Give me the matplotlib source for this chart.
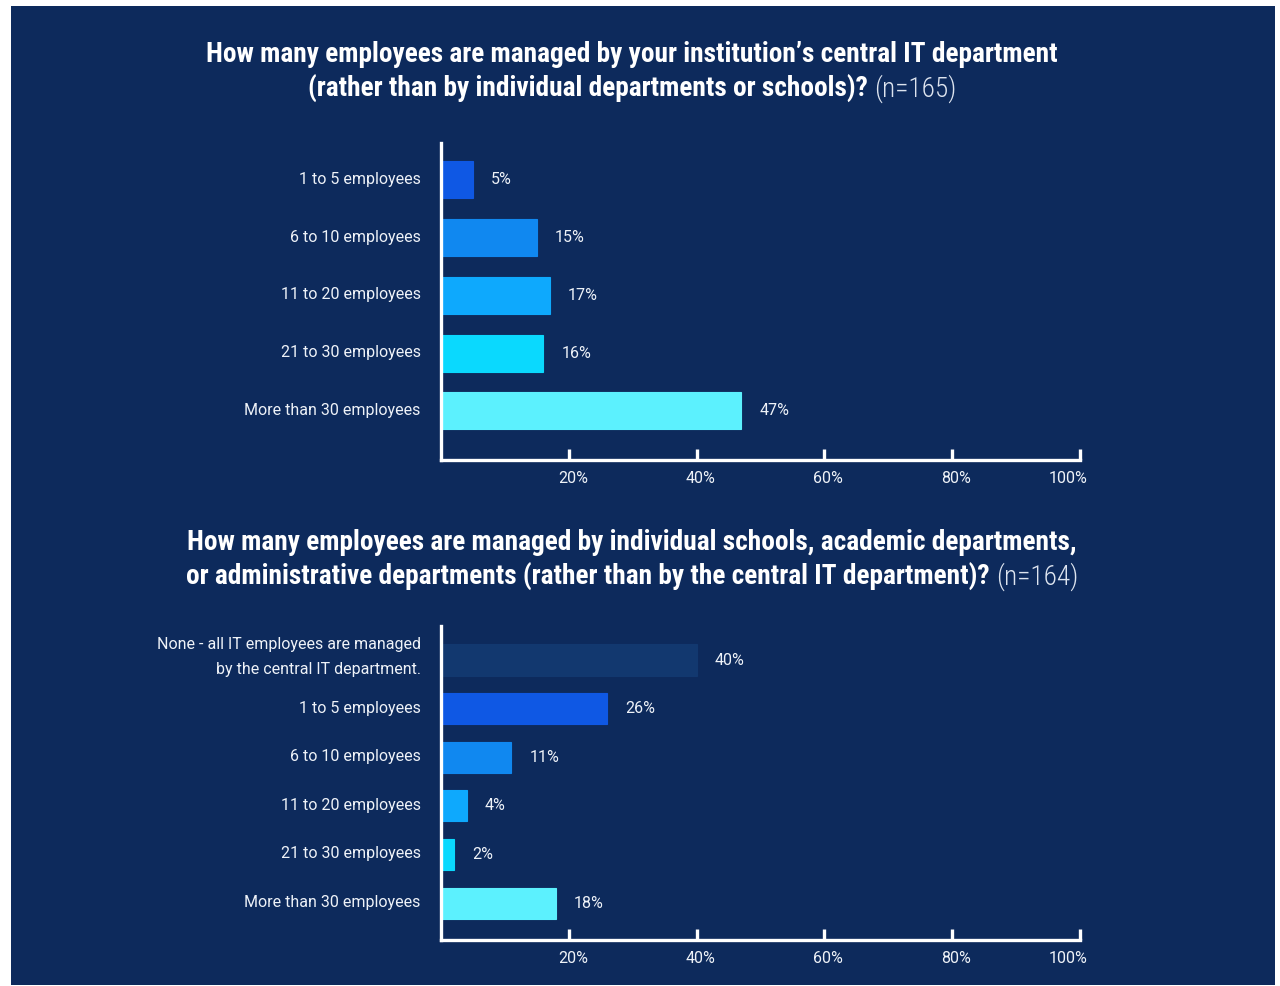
import matplotlib
matplotlib.use("Agg")
from matplotlib import pyplot as plt
from matplotlib import font_manager
from matplotlib.patches import Rectangle
from matplotlib.transforms import ScaledTranslation

# survey answers, percent of respondents
central_labels = ["1 to 5 employees", "6 to 10 employees", "11 to 20 employees",
                  "21 to 30 employees", "More than 30 employees"]
central_values = [5, 15, 17, 16, 47]

school_labels = ["None - all IT employees are managed\nby the central IT department.",
                 "1 to 5 employees", "6 to 10 employees", "11 to 20 employees",
                 "21 to 30 employees", "More than 30 employees"]
school_values = [40, 26, 11, 4, 2, 18]

x_ticks = [20, 40, 60, 80, 100]
x_tick_labels = ["20%", "40%", "60%", "80%", "100%"]

central_title = ("How many employees are managed by your institution\u2019s central IT department",
                 "(rather than by individual departments or schools)?", "(n=165)")
school_title = ("How many employees are managed by individual schools, academic departments,",
                "or administrative departments (rather than by the central IT department)?", "(n=164)")

BG = "#0d2a5c"
central_colors = ["#0f58e4", "#1088f0", "#0ea9fd", "#0ad9fe", "#5cf1fe"]
school_colors = ["#12386f"] + central_colors
TXT = "#eef2f8"
BODY_FONT = ["Roboto", "DejaVu Sans"]

# pick a narrow face for the headings if one is around
installed = {f.name for f in font_manager.fontManager.ttflist}
narrow = [n for n in ["Roboto Condensed", "Liberation Sans Narrow", "DejaVu Sans"] if n in installed]
TITLE_FONT = narrow + ["DejaVu Sans"]
TITLE_STRETCH = "normal" if narrow[0] != "DejaVu Sans" else "condensed"
TITLE_SIZE = 19.7 if narrow[0] != "DejaVu Sans" else 15

W, H = 1280, 986
fig = plt.figure(figsize=(W / 100, H / 100), dpi=100)
fig.patch.set_facecolor("white")
fig.patches.append(Rectangle((11 / W, 1 - 985 / H), (1275 - 11) / W, (985 - 6) / H,
                             transform=fig.transFigure, facecolor=BG, edgecolor="none", zorder=-5))


def px_box(left, top, right, bottom):
    return [left / W, 1 - bottom / H, (right - left) / W, (bottom - top) / H]


def nudge(artist, dx, dy):
    # shift a text artist by a few pixels
    artist.set_transform(artist.get_transform() +
                         ScaledTranslation(dx / 100, dy / 100, fig.dpi_scale_trans))


def draw_bars(ax, labels, values, colors, ylim):
    pos = list(range(len(values)))
    ax.barh(pos, values, height=0.64, color=colors, edgecolor=colors, linewidth=0.8)
    ax.set_xlim(0, 100)
    ax.set_ylim(*ylim)
    ax.set_facecolor("none")
    for s in ["top", "right"]:
        ax.spines[s].set_visible(False)
    for s in ["left", "bottom"]:
        ax.spines[s].set_color("white")
        ax.spines[s].set_linewidth(2.4)
    ax.set_xticks(x_ticks)
    ax.set_xticklabels(x_tick_labels, family=BODY_FONT, fontsize=11.5, color=TXT)
    ax.tick_params(axis="x", direction="in", length=8, width=2.4, color="white", pad=8)
    for lbl in ax.get_xticklabels()[:-1]:
        nudge(lbl, 4, 0)
    nudge(ax.get_xticklabels()[-1], -12, 0)
    ax.set_yticks(pos)
    ax.set_yticklabels(labels, family=BODY_FONT, fontsize=11.5, color=TXT,
                       linespacing=1.9)
    ax.tick_params(axis="y", length=0, pad=14.5)
    for lbl in ax.get_yticklabels():
        nudge(lbl, 0, 10 if "\n" in lbl.get_text() else 2)
    for p, v in zip(pos, values):
        ax.annotate(f"{v}%", (v, p), xytext=(13, 0), textcoords="offset points",
                    ha="left", va="center", family=BODY_FONT, fontsize=11.5, color=TXT)


def draw_title(lines, y1, y2, renderer):
    style = dict(family=TITLE_FONT, fontstretch=TITLE_STRETCH, fontsize=TITLE_SIZE)
    fig.text(632 / W, 1 - y1 / H, lines[0], ha="center", va="center",
             fontweight="bold", color="white", **style)
    main = fig.text(0, 1 - y2 / H, lines[1] + " ", ha="left", va="center",
                    fontweight="bold", color="white", **style)
    tail = fig.text(0, 1 - y2 / H, lines[2], ha="left", va="center",
                    fontweight="light", color="#dde4ef", **style)
    w1 = main.get_window_extent(renderer).width
    w2 = tail.get_window_extent(renderer).width
    start = 632 - (w1 + w2) / 2
    main.set_x(start / W)
    tail.set_x((start + w1) / W)


ax1 = fig.add_axes(px_box(441, 143, 1080, 460))
draw_bars(ax1, central_labels, central_values, central_colors, (4.85, -0.64))

ax2 = fig.add_axes(px_box(441, 626, 1080, 940))
draw_bars(ax2, school_labels, school_values, school_colors, (5.76, -0.70))

renderer = fig.canvas.get_renderer()
draw_title(central_title, 55, 89, renderer)
draw_title(school_title, 543, 577, renderer)

fig.savefig("out.png", dpi=100, facecolor=fig.get_facecolor())
